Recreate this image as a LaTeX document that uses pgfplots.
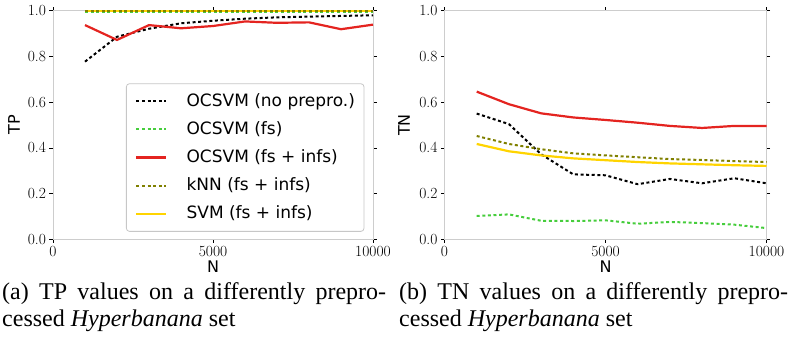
\documentclass[border=0pt]{standalone}
\usepackage{pgfplots}
\pgfplotsset{compat=1.18}
\usepackage{fontspec}
\newfontfamily\sansf{DejaVu Sans}
\newfontfamily\capf{Liberation Serif}
\definecolor{cgreen}{RGB}{70,205,60}
\definecolor{cred}{RGB}{228,36,32}
\definecolor{colive}{RGB}{128,128,0}
\definecolor{cgold}{RGB}{255,212,0}
\definecolor{frame}{RGB}{205,205,205}

\pgfplotstableread{
N     nopre  fs     fsinf  knn    svm
1000  0.777  0.996  0.937  0.997  0.998
2000  0.886  0.996  0.872  0.997  0.998
3000  0.921  0.996  0.937  0.997  0.998
4000  0.945  0.996  0.923  0.997  0.998
5000  0.956  0.996  0.933  0.997  0.998
6000  0.965  0.996  0.953  0.997  0.998
7000  0.971  0.996  0.947  0.997  0.998
8000  0.974  0.996  0.949  0.997  0.998
9000  0.977  0.996  0.919  0.997  0.998
10000 0.980  0.996  0.939  0.997  0.998
}\tptable

\pgfplotstableread{
N     nopre  fs     fsinf  knn    svm
1000  0.550  0.102  0.646  0.452  0.417
2000  0.504  0.109  0.591  0.417  0.385
3000  0.372  0.081  0.551  0.394  0.367
4000  0.284  0.080  0.533  0.376  0.354
5000  0.280  0.083  0.522  0.367  0.346
6000  0.241  0.068  0.510  0.359  0.338
7000  0.264  0.076  0.496  0.351  0.332
8000  0.245  0.071  0.487  0.347  0.328
9000  0.267  0.064  0.496  0.342  0.324
10000 0.245  0.049  0.496  0.338  0.321
}\tntable

\begin{document}
\begin{tikzpicture}
\path[use as bounding box] (0pt,0pt) rectangle (789pt,342pt);
\pgfplotsset{
  myax/.style={
    scale only axis, height=228.6pt,
    xmin=0, xmax=10000, ymin=0, ymax=1,
    xtick={0,5000,10000}, ytick={0,0.2,0.4,0.6,0.8,1.0},
    scaled x ticks=false,
    xticklabel style={/pgf/number format/1000 sep={}},
    yticklabel style={/pgf/number format/.cd, fixed, fixed zerofill, precision=1},
    /pgf/number format/assume math mode=true,
    tick label style={font=\fontsize{15.5}{15.5}\selectfont},
    axis line style={draw=frame, line width=0.9pt},
    tick style={black, line width=0.7pt},
    major tick length=3.5pt, tick align=outside,
    xlabel={N},
    every axis x label/.style={at={(axis description cs:0.5,-0.121)}, anchor=center,
      font=\sansf\fontsize{16}{16}\selectfont},
    clip=true,
  },
  sdot/.style={line width=2pt, dash pattern=on 3pt off 2.6pt},
  ssol/.style={line width=2.2pt},
}
\begin{axis}[myax, width=320pt, at={(53pt,102.7pt)}, anchor=south west,
  ylabel={TP},
  every axis y label/.style={at={(axis description cs:-0.122,0.5)}, anchor=center, rotate=90,
    font=\sansf\fontsize{16}{16}\selectfont},
  legend style={at={(0.973,0.033)}, anchor=south east,
    draw=black!22, line width=0.8pt, rounded corners=3pt, fill=white,
    inner xsep=9pt, inner ysep=6pt,
    font=\sansf\fontsize{17}{19}\selectfont,
    nodes={inner sep=0pt, text height=16.4pt, text depth=6.4pt},
    row sep=5.4pt, column sep=19pt},
  legend cell align=left,
  legend image code/.code={\draw[#1] (0pt,0pt) -- (30pt,0pt);},
]
\addlegendimage{black, sdot}
\addlegendentry{OCSVM (no prepro.)}
\addlegendimage{cgreen, sdot}
\addlegendentry{OCSVM (fs)}
\addlegendimage{cred, ssol}
\addlegendentry{OCSVM (fs + infs)}
\addlegendimage{colive, sdot}
\addlegendentry{kNN (fs + infs)}
\addlegendimage{cgold, ssol}
\addlegendentry{SVM (fs + infs)}
\addplot[black, sdot, forget plot] table[x=N, y=nopre] {\tptable};
\addplot[cgreen, sdot, forget plot] table[x=N, y=fs] {\tptable};
\addplot[cred, ssol, forget plot] table[x=N, y=fsinf] {\tptable};
\addplot[cgold, ssol, forget plot] table[x=N, y=svm] {\tptable};
\addplot[colive, sdot, forget plot] table[x=N, y=knn] {\tptable};
\end{axis}

\begin{axis}[myax, width=322pt, at={(444.5pt,102.7pt)}, anchor=south west,
  ylabel={TN},
  every axis y label/.style={at={(axis description cs:-0.126,0.5)}, anchor=center, rotate=90,
    font=\sansf\fontsize{16}{16}\selectfont},
]
\addplot[black, sdot] table[x=N, y=nopre] {\tntable};
\addplot[cgreen, sdot] table[x=N, y=fs] {\tntable};
\addplot[cred, ssol] table[x=N, y=fsinf] {\tntable};
\addplot[cgold, ssol] table[x=N, y=svm] {\tntable};
\addplot[colive, sdot] table[x=N, y=knn] {\tntable};
\end{axis}

\node[anchor=base west, inner sep=0pt, text width=384pt, align=justify,
  font=\capf\fontsize{24}{26.7}\selectfont] at (2pt,42pt)
  {(a) TP values on a differently prepro-\linebreak cessed \textit{Hyperbanana} set};
\node[anchor=base west, inner sep=0pt, text width=389pt, align=justify,
  font=\capf\fontsize{24}{26.7}\selectfont] at (399pt,42pt)
  {(b) TN values on a differently prepro-\linebreak cessed \textit{Hyperbanana} set};
\end{tikzpicture}
\end{document}
